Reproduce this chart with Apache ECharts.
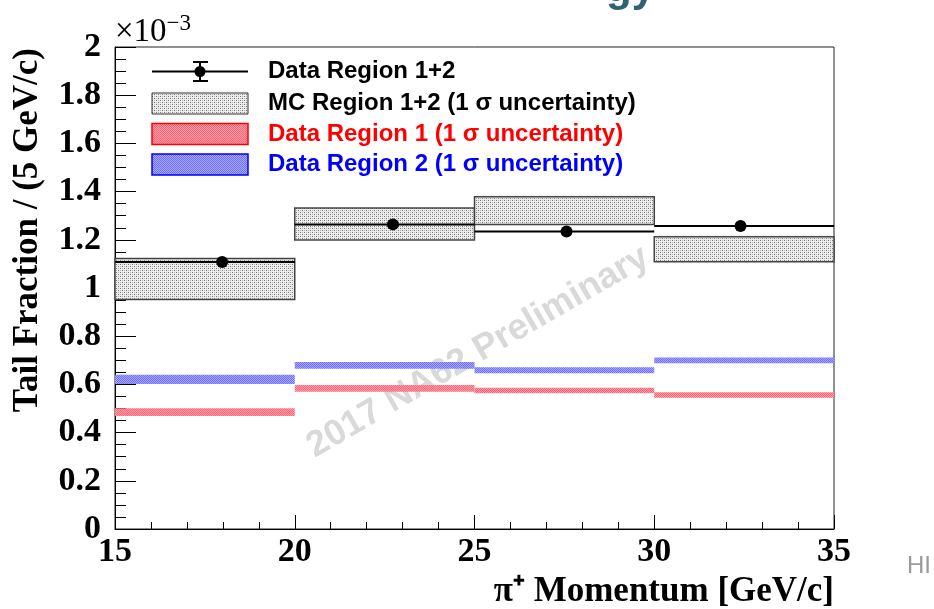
<!DOCTYPE html>
<html>
<head>
<meta charset="utf-8">
<script src="https://cdn.jsdelivr.net/npm/echarts@6/dist/echarts.min.js"></script>
<style>
  html, body { margin: 0; padding: 0; background: #fff; }
  #chart { width: 934px; height: 609px; }
</style>
</head>
<body>
<div id="chart"></div>
<script>
// Momentum bins (GeV/c)
var binLow  = [15, 20, 25, 30];
var binHigh = [20, 25, 30, 35];

// Data Region 1+2: tail fraction (x 10^-3) and mean momentum within each bin
var dataMeanP = [17.98, 22.73, 27.56, 32.40];
var dataValue = [1.108, 1.264, 1.234, 1.257];

// MC Region 1+2, 1 sigma band (x 10^-3)
var mcLow  = [0.952, 1.199, 1.264, 1.109];
var mcHigh = [1.122, 1.332, 1.379, 1.213];

// Data Region 1, 1 sigma band (x 10^-3)
var r1Low  = [0.469, 0.570, 0.563, 0.545];
var r1High = [0.501, 0.598, 0.586, 0.567];

// Data Region 2, 1 sigma band (x 10^-3)
var r2Low  = [0.602, 0.665, 0.646, 0.688];
var r2High = [0.640, 0.693, 0.671, 0.712];

// Axis ranges / ticks
var xMin = 15, xMax = 35, xStep = 5;
var yMin = 0, yMax = 2, yStep = 0.2;

var xTitle = '\u03c0\u207a Momentum [GeV/c]';
var yTitle = 'Tail Fraction / (5 GeV/c)';

var legendLabels = [
  'Data Region 1+2',
  'MC Region 1+2 (1 \u03c3 uncertainty)',
  'Data Region 1 (1 \u03c3 uncertainty)',
  'Data Region 2 (1 \u03c3 uncertainty)'
];

// Small repeating fill tiles (hatch-like textures)
function makeTile(size, painter) {
  var c = document.createElement('canvas');
  c.width = size; c.height = size;
  var g = c.getContext('2d');
  painter(g);
  return c;
}
var dotTile = makeTile(4, function (g) {
  g.fillStyle = '#ececec'; g.fillRect(0, 0, 4, 4);
  g.fillStyle = '#7a7a7a';
  g.fillRect(0, 0, 1, 1); g.fillRect(2, 2, 1, 1);
  g.fillStyle = '#b8b8b8';
  g.fillRect(2, 0, 1, 1); g.fillRect(0, 2, 1, 1);
});
var redTile = makeTile(2, function (g) {
  g.fillStyle = '#ffa4ad'; g.fillRect(0, 0, 2, 2);
  g.fillStyle = '#ff5f70';
  g.fillRect(0, 0, 1, 1); g.fillRect(1, 1, 1, 1);
});
var blueTile = makeTile(2, function (g) {
  g.fillStyle = '#a8a8ff'; g.fillRect(0, 0, 2, 2);
  g.fillStyle = '#6e6eff';
  g.fillRect(0, 0, 1, 1); g.fillRect(1, 1, 1, 1);
});
var mcFill   = { image: dotTile,  repeat: 'repeat' };
var redFill  = { image: redTile,  repeat: 'repeat' };
var blueFill = { image: blueTile, repeat: 'repeat' };

function bandData(lo, hi) {
  return binLow.map(function (b, i) { return [b, binHigh[i], lo[i], hi[i]]; });
}

function bandSeries(name, lo, hi, fill, stroke, lw) {
  return {
    type: 'custom',
    name: name,
    data: bandData(lo, hi),
    encode: { x: [0, 1], y: [2, 3] },
    z: 3,
    renderItem: function (params, api) {
      var p0 = api.coord([api.value(0), api.value(3)]);
      var p1 = api.coord([api.value(1), api.value(2)]);
      return {
        type: 'rect',
        shape: { x: p0[0], y: p0[1], width: p1[0] - p0[0], height: p1[1] - p0[1] },
        style: { fill: fill, stroke: stroke, lineWidth: lw }
      };
    }
  };
}

var dataPoints = binLow.map(function (b, i) {
  return [b, binHigh[i], dataMeanP[i], dataValue[i]];
});

var serifName = 'Liberation Serif';
var sans = '"Liberation Sans", Arial, sans-serif';

// Legend rows
var legendX = 152, legendW = 96, legendTextX = 268;
var rowY = [71.5, 103.5, 134, 164.5];
var legendGraphics = [];
legendGraphics.push(
  { type: 'line', shape: { x1: legendX, y1: rowY[0], x2: legendX + legendW, y2: rowY[0] }, style: { stroke: '#000', lineWidth: 2 }, z: 10 },
  { type: 'line', shape: { x1: 200, y1: rowY[0] - 9.5, x2: 200, y2: rowY[0] + 9.5 }, style: { stroke: '#000', lineWidth: 2 }, z: 10 },
  { type: 'line', shape: { x1: 193, y1: rowY[0] - 9.5, x2: 208, y2: rowY[0] - 9.5 }, style: { stroke: '#000', lineWidth: 2 }, z: 10 },
  { type: 'line', shape: { x1: 193, y1: rowY[0] + 9.5, x2: 208, y2: rowY[0] + 9.5 }, style: { stroke: '#000', lineWidth: 2 }, z: 10 },
  { type: 'circle', shape: { cx: 200, cy: rowY[0], r: 5.5 }, style: { fill: '#000' }, z: 10 },
  { type: 'rect', shape: { x: legendX, y: rowY[1] - 10.5, width: legendW, height: 21 }, style: { fill: mcFill, stroke: '#333', lineWidth: 1 }, z: 10 },
  { type: 'rect', shape: { x: legendX, y: rowY[2] - 10.5, width: legendW, height: 21 }, style: { fill: redFill, stroke: '#ff0000', lineWidth: 1.5 }, z: 10 },
  { type: 'rect', shape: { x: legendX, y: rowY[3] - 10.5, width: legendW, height: 21 }, style: { fill: blueFill, stroke: '#0000ff', lineWidth: 1.5 }, z: 10 }
);
var legendColors = ['#000', '#000', '#ff0000', '#0000ff'];
legendLabels.forEach(function (t, i) {
  legendGraphics.push({
    type: 'text', x: legendTextX, y: rowY[i], z: 10,
    style: { text: t, fill: legendColors[i], font: 'bold 24px ' + sans, textVerticalAlign: 'middle' }
  });
});

var chart = echarts.init(document.getElementById('chart'), null, { renderer: 'canvas' });

var option = {
  backgroundColor: '#ffffff',
  animation: false,
  grid: {
    left: 115, right: 100, top: 47, bottom: 80,
    show: true, borderColor: '#222', borderWidth: 1, backgroundColor: 'transparent'
  },
  xAxis: {
    type: 'value', min: xMin, max: xMax, interval: xStep,
    axisLine: { show: true, onZero: false, lineStyle: { color: '#000', width: 1 } },
    axisTick: { show: true, inside: true, length: 14, lineStyle: { color: '#000' } },
    minorTick: { show: true, splitNumber: 5, length: 7, lineStyle: { color: '#000' } },
    splitLine: { show: false },
    axisLabel: { margin: 6, color: '#000', fontFamily: serifName, fontWeight: 'bold', fontSize: 34 }
  },
  yAxis: {
    type: 'value', min: yMin, max: yMax, interval: yStep,
    axisLine: { show: true, onZero: false, lineStyle: { color: '#000', width: 1 } },
    axisTick: { show: true, inside: true, length: 21, lineStyle: { color: '#000' } },
    minorTick: { show: true, splitNumber: 4, length: 11, lineStyle: { color: '#000' } },
    splitLine: { show: false },
    axisLabel: {
      margin: 14, color: '#000', fontFamily: serifName, fontWeight: 'bold', fontSize: 34,
      formatter: function (v) { return String(Math.round(v * 10) / 10); }
    }
  },
  graphic: [
    {
      type: 'text', x: 478, y: 352, rotation: 30 * Math.PI / 180, z: 0,
      style: {
        text: '2017 NA62 Preliminary', fill: '#d9d9d9',
        font: 'bold 36px ' + sans, textAlign: 'center', textVerticalAlign: 'middle'
      }
    },
    {
      type: 'text', x: 28, y: 48, rotation: Math.PI / 2, z: 10,
      style: {
        text: yTitle, fill: '#000', font: 'bold 35px "Liberation Serif", serif',
        textAlign: 'right', textVerticalAlign: 'middle'
      }
    },
    {
      type: 'text', x: 834, y: 592, z: 10,
      style: {
        text: xTitle, fill: '#000', font: 'bold 35px "Liberation Serif", serif',
        textAlign: 'right', textVerticalAlign: 'middle'
      }
    },
    {
      type: 'text', x: 115, y: 49, z: 10,
      style: {
        text: '{a|\u00d710}{b|\u22123}',
        textVerticalAlign: 'bottom',
        rich: {
          a: { fontFamily: serifName, fontSize: 33, fill: '#000', verticalAlign: 'bottom' },
          b: { fontFamily: serifName, fontSize: 23, fill: '#000', verticalAlign: 'top', padding: [0, 0, 14, 0] }
        }
      }
    },
    {
      type: 'text', x: 907, y: 566, z: 10,
      style: { text: 'HI', fill: '#9a9a9a', font: '24px ' + sans, textVerticalAlign: 'middle' }
    },
    {
      type: 'text', x: 606, y: -32, z: 10,
      style: { text: 'gy', fill: '#2b6274', font: 'bold 42px ' + sans, textVerticalAlign: 'top' }
    }
  ].concat(legendGraphics),
  series: [
    bandSeries('MC Region 1+2', mcLow, mcHigh, mcFill, '#444', 1.5),
    bandSeries('Data Region 1', r1Low, r1High, redFill, null, 0),
    bandSeries('Data Region 2', r2Low, r2High, blueFill, null, 0),
    {
      type: 'custom',
      name: 'Data Region 1+2',
      data: dataPoints,
      encode: { x: [0, 1, 2], y: 3 },
      z: 5,
      renderItem: function (params, api) {
        var a = api.coord([api.value(0), api.value(3)]);
        var b = api.coord([api.value(1), api.value(3)]);
        var m = api.coord([api.value(2), api.value(3)]);
        return {
          type: 'group',
          children: [
            { type: 'line', shape: { x1: a[0], y1: a[1], x2: b[0], y2: b[1] }, style: { stroke: '#000', lineWidth: 2 } },
            { type: 'circle', shape: { cx: m[0], cy: m[1], r: 6 }, style: { fill: '#000' } }
          ]
        };
      }
    }
  ]
};

chart.setOption(option);
</script>
</body>
</html>
